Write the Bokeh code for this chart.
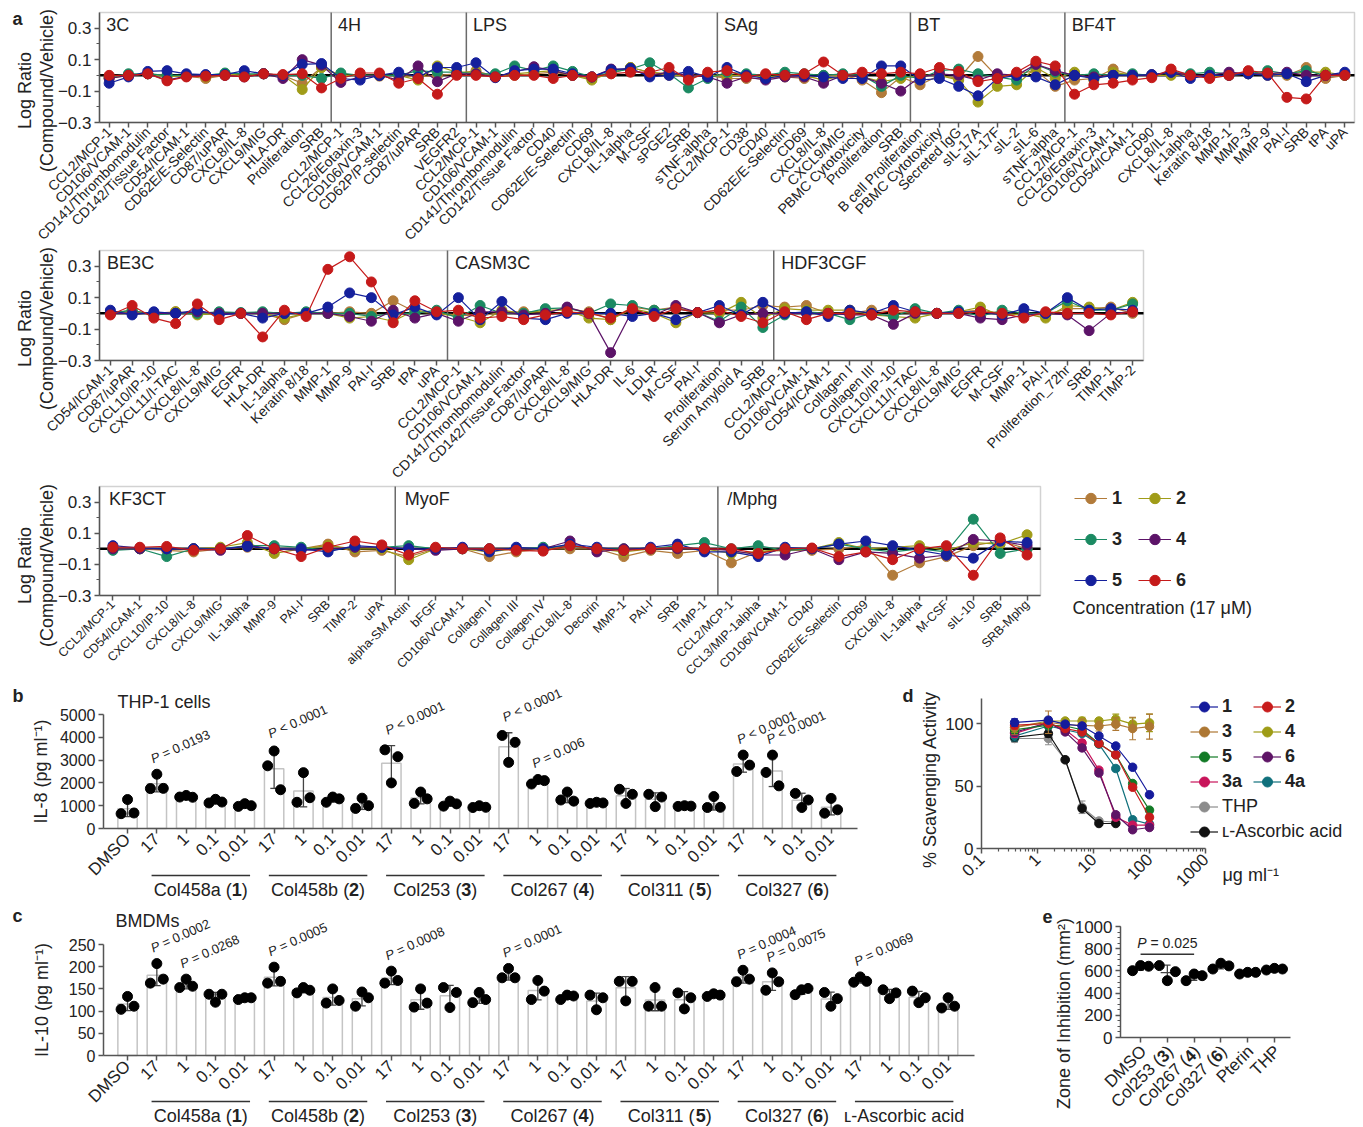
import math
import numpy as np
from bokeh.plotting import figure
from bokeh.layouts import column, row
from bokeh.models import (Range1d, FixedTicker, Label, Legend, LegendItem, BoxAnnotation,
                          CustomJSTickFormatter, PolyAnnotation)
from bokeh.embed import file_html
from bokeh.resources import INLINE

FONT = "Liberation Sans"
TXT = "#222222"
AXC = "#555555"

# ---------------- panel a data ----------------
A_SERIES = ["1", "2", "3", "4", "5", "6"]
A_COLORS = ["#b27b3a", "#a09c18", "#1b8a62", "#5c1368", "#15209c", "#c51a1a"]

A1_PANELS = ["3C", "4H", "LPS", "SAg", "BT", "BF4T"]
CATS_3C = ["CCL2/MCP-1", "CD106/VCAM-1", "CD141/Thrombomodulin", "CD142/Tissue Factor", "CD54/ICAM-1",
           "CD62E/E-Selectin", "CD87/uPAR", "CXCL8/IL-8", "CXCL9/MIG", "HLA-DR", "Proliferation", "SRB"]
CATS_4H = ["CCL2/MCP-1", "CCL26/Eotaxin-3", "CD106/VCAM-1", "CD62P/P-selectin", "CD87/uPAR", "SRB", "VEGFR2"]
CATS_LPS = ["CCL2/MCP-1", "CD106/VCAM-1", "CD141/Thrombomodulin", "CD142/Tissue Factor", "CD40",
            "CD62E/E-Selectin", "CD69", "CXCL8/IL-8", "IL-1alpha", "M-CSF", "sPGE2", "SRB", "sTNF-alpha"]
CATS_SAG = ["CCL2/MCP-1", "CD38", "CD40", "CD62E/E-Selectin", "CD69", "CXCL8/IL-8", "CXCL9/MIG",
            "PBMC Cytotoxicity", "Proliferation", "SRB"]
CATS_BT = ["B cell Proliferation", "PBMC Cytotoxicity", "Secreted IgG", "sIL-17A", "sIL-17F", "sIL-2",
           "sIL-6", "sTNF-alpha"]
CATS_BF4T = ["CCL2/MCP-1", "CCL26/Eotaxin-3", "CD106/VCAM-1", "CD54/ICAM-1", "CD90", "CXCL8/IL-8",
             "IL-1alpha", "Keratin 8/18", "MMP-1", "MMP-3", "MMP-9", "PAI-I", "SRB", "tPA", "uPA"]

A1_S1 = [-0.01, 0.0, 0.01, 0.0, -0.005, -0.02, 0.0, 0.0, 0.01, 0.0, -0.05, 0.05,
         0.0, 0.0, -0.005, 0.0, -0.01, 0.0, 0.01,
         0.03, -0.01, 0.0, 0.01, 0.02, 0.0, -0.02, 0.01, 0.05, 0.02, 0.0, 0.0, 0.0,
         -0.02, -0.02, -0.02, -0.01, -0.02, 0.0, 0.0, -0.03, -0.11, -0.01,
         -0.06, 0.0, -0.02, 0.12, -0.01, 0.01, 0.03, -0.07,
         -0.03, -0.02, 0.04, 0.0, 0.005, 0.02, 0.0, -0.01, 0.0, 0.02, 0.0, 0.0, 0.05, -0.02, 0.0]
A1_S2 = [-0.02, 0.0, 0.01, -0.01, 0.0, -0.01, 0.01, 0.0, 0.01, 0.0, -0.09, 0.05,
         0.0, 0.0, 0.0, 0.0, -0.03, 0.06, 0.02,
         0.02, -0.01, 0.01, 0.02, 0.03, 0.0, -0.03, 0.02, 0.05, 0.02, 0.01, -0.01, 0.0,
         0.0, 0.0, -0.01, 0.0, 0.0, -0.03, 0.0, -0.01, -0.04, -0.02,
         0.0, 0.0, -0.03, -0.17, -0.07, -0.06, 0.05, -0.02,
         0.02, -0.03, 0.02, 0.0, 0.0, 0.0, 0.0, -0.01, 0.0, 0.01, 0.01, 0.01, 0.02, 0.02, 0.0]
A1_S3 = [-0.01, 0.01, 0.01, 0.0, 0.0, 0.0, 0.015, 0.01, 0.01, 0.0, 0.0, -0.02,
         0.015, 0.0, 0.0, 0.0, 0.03, 0.02, 0.02,
         0.01, 0.01, 0.06, 0.03, 0.06, 0.025, -0.01, 0.02, 0.04, 0.08, 0.01, -0.08, -0.02,
         0.02, 0.01, 0.0, 0.02, 0.01, 0.0, 0.01, 0.0, -0.07, 0.0,
         -0.02, 0.03, 0.04, 0.01, -0.01, -0.03, 0.07, 0.02,
         0.0, 0.01, 0.0, 0.01, 0.0, 0.02, 0.01, 0.02, 0.01, 0.01, 0.03, 0.01, 0.03, 0.0, 0.0]
A1_S4 = [-0.02, 0.0, 0.01, -0.03, -0.005, 0.0, 0.0, -0.01, 0.01, -0.02, 0.1, 0.065,
         -0.045, -0.01, 0.0, -0.03, 0.06, -0.04, 0.01,
         0.01, -0.01, 0.02, 0.055, 0.03, 0.0, -0.01, 0.04, 0.04, 0.0, 0.02, 0.0, -0.01,
         -0.05, -0.01, -0.03, -0.01, -0.01, -0.05, 0.0, -0.01, -0.05, -0.1,
         -0.01, 0.01, 0.0, -0.03, 0.01, 0.0, 0.07, 0.03,
         0.0, -0.01, 0.0, 0.0, 0.0, 0.02, 0.0, 0.0, 0.02, 0.01, 0.01, 0.02, 0.0, 0.0, 0.01]
A1_S5 = [-0.05, -0.01, 0.025, 0.03, 0.01, 0.005, 0.005, 0.03, 0.01, 0.0, 0.07, 0.075,
         -0.02, -0.03, 0.0, 0.02, -0.01, 0.05, 0.05,
         0.08, -0.015, 0.03, 0.04, 0.04, 0.01, -0.01, 0.035, 0.045, -0.01, 0.0, 0.025, -0.01,
         0.05, 0.0, -0.02, 0.0, 0.0, -0.01, -0.02, -0.02, 0.06, 0.06,
         -0.03, -0.02, -0.07, -0.13, -0.02, 0.0, -0.01, -0.06,
         0.0, -0.02, 0.0, 0.0, 0.005, 0.02, -0.02, 0.0, 0.0, 0.01, 0.0, 0.01, -0.04, 0.0, 0.02]
A1_S6 = [0.0, 0.0, 0.01, -0.035, -0.01, -0.005, 0.0, -0.01, 0.01, 0.005, 0.01, -0.08,
         -0.02, 0.015, 0.015, -0.05, -0.02, -0.12, 0.0,
         0.0, -0.01, 0.0, 0.0, -0.02, 0.0, -0.01, 0.01, 0.02, 0.02, 0.05, -0.03, 0.02,
         0.03, -0.01, 0.01, 0.0, 0.01, 0.085, 0.0, 0.02, 0.01, 0.02,
         0.01, 0.05, 0.025, -0.04, -0.02, 0.02, 0.09, 0.06,
         -0.12, -0.06, -0.05, -0.03, -0.015, 0.04, 0.0, -0.02, 0.0, 0.03, 0.015, -0.14, -0.15, 0.0, 0.0]

A2_PANELS = ["BE3C", "CASM3C", "HDF3CGF"]
CATS_BE3C = ["CD54/ICAM-1", "CD87/uPAR", "CXCL10/IP-10", "CXCL11/I-TAC", "CXCL8/IL-8", "CXCL9/MIG", "EGFR",
             "HLA-DR", "IL-1alpha", "Keratin 8/18", "MMP-1", "MMP-9", "PAI-I", "SRB", "tPA", "uPA"]
CATS_CASM3C = ["CCL2/MCP-1", "CD106/VCAM-1", "CD141/Thrombomodulin", "CD142/Tissue Factor", "CD87/uPAR",
               "CXCL8/IL-8", "CXCL9/MIG", "HLA-DR", "IL-6", "LDLR", "M-CSF", "PAI-I", "Proliferation",
               "Serum Amyloid A", "SRB"]
CATS_HDF3CGF = ["CCL2/MCP-1", "CD106/VCAM-1", "CD54/ICAM-1", "Collagen I", "Collagen III", "CXCL10/IP-10",
                "CXCL11/I-TAC", "CXCL8/IL-8", "CXCL9/MIG", "EGFR", "M-CSF", "MMP-1", "PAI-I",
                "Proliferation_72hr", "SRB", "TIMP-1", "TIMP-2"]

A2_S1 = [0.0, 0.01, 0.0, 0.01, 0.0, 0.0, 0.0, 0.0, -0.04, 0.0, 0.0, 0.01, 0.0, 0.08, 0.01, 0.0,
         -0.01, -0.02, 0.01, 0.01, 0.01, 0.03, 0.01, -0.04, 0.04, 0.02, 0.04, 0.005, 0.02, 0.02, 0.05,
         0.04, 0.05, 0.0, 0.0, 0.02, 0.01, 0.0, 0.0, 0.01, 0.02, 0.0, -0.01, -0.01, 0.03, 0.03, 0.04, 0.0]
A2_S2 = [0.0, 0.02, -0.01, 0.01, -0.01, 0.0, 0.0, 0.0, -0.03, 0.0, 0.0, -0.03, -0.02, -0.05, 0.02, 0.0,
         -0.02, -0.06, 0.02, 0.0, 0.02, 0.02, -0.03, -0.04, 0.03, 0.0, -0.06, 0.005, 0.0, 0.07, -0.03,
         0.03, 0.02, 0.02, 0.02, -0.01, -0.02, -0.03, 0.0, 0.01, 0.04, -0.02, 0.0, -0.03, 0.05, 0.04, 0.02, 0.07]
A2_S3 = [0.0, 0.02, -0.01, 0.0, 0.0, 0.01, 0.005, 0.01, 0.0, 0.01, 0.0, 0.0, -0.02, 0.0, 0.0, 0.02,
         -0.03, 0.05, 0.0, 0.0, 0.03, 0.035, 0.0, 0.06, 0.05, 0.02, 0.03, 0.005, -0.05, 0.04, -0.09,
         -0.01, 0.01, 0.0, -0.04, 0.0, -0.02, 0.03, 0.0, 0.02, -0.02, 0.02, 0.0, 0.0, 0.08, 0.02, 0.02, 0.06]
A2_S4 = [0.0, 0.0, 0.0, 0.0, 0.01, 0.0, 0.0, 0.0, 0.0, 0.0, 0.0, -0.02, -0.05, 0.02, -0.03, 0.0,
         -0.05, 0.01, 0.01, -0.01, 0.0, 0.04, 0.0, -0.25, 0.02, -0.01, 0.05, 0.005, -0.06, -0.01, 0.0,
         0.0, 0.0, 0.0, -0.01, -0.01, -0.07, 0.0, 0.0, 0.0, -0.03, -0.04, -0.01, 0.0, -0.01, -0.11, 0.0, 0.01]
A2_S5 = [0.02, -0.01, 0.01, 0.0, 0.02, -0.01, 0.0, -0.03, 0.0, 0.0, 0.04, 0.13, 0.1, -0.01, 0.04, -0.01,
         0.1, -0.04, 0.075, -0.03, -0.04, 0.0, 0.0, 0.0, -0.02, 0.0, -0.04, 0.005, 0.05, -0.01, 0.07,
         0.0, 0.01, -0.02, 0.02, 0.0, 0.05, 0.01, 0.0, 0.01, 0.01, -0.01, 0.03, 0.0, 0.1, 0.02, 0.03, 0.02]
A2_S6 = [-0.01, 0.05, -0.03, -0.065, 0.06, -0.04, 0.0, -0.15, 0.02, -0.02, 0.28, 0.36, 0.2, -0.06, 0.08, 0.01,
         0.02, -0.03, -0.02, -0.04, -0.01, 0.01, 0.0, -0.03, 0.03, -0.02, 0.03, 0.005, 0.02, -0.02, -0.06,
         0.01, -0.04, 0.0, 0.0, -0.01, 0.02, 0.01, 0.0, 0.0, 0.01, 0.0, -0.03, 0.01, 0.0, 0.0, -0.01, 0.01]

A3_PANELS = ["KF3CT", "MyoF", "/Mphg"]
CATS_KF3CT = ["CCL2/MCP-1", "CD54/ICAM-1", "CXCL10/IP-10", "CXCL8/IL-8", "CXCL9/MIG", "IL-1alpha", "MMP-9",
              "PAI-I", "SRB", "TIMP-2", "uPA"]
CATS_MYOF = ["alpha-SM Actin", "bFGF", "CD106/VCAM-1", "Collagen I", "Collagen III", "Collagen IV",
             "CXCL8/IL-8", "Decorin", "MMP-1", "PAI-I", "SRB", "TIMP-1"]
CATS_MPHG = ["CCL2/MCP-1", "CCL3/MIP-1alpha", "CD106/VCAM-1", "CD40", "CD62E/E-Selectin", "CD69",
             "CXCL8/IL-8", "IL-1alpha", "M-CSF", "sIL-10", "SRB", "SRB-Mphg"]

A3_S1 = [0.0, 0.0, -0.01, -0.02, 0.0, 0.01, 0.0, 0.0, 0.03, -0.02, -0.01,
         -0.05, 0.0, 0.0, -0.05, -0.02, 0.0, 0.0, 0.0, -0.05, -0.01, -0.03, -0.01,
         -0.09, -0.02, -0.01, -0.01, 0.0, 0.02, -0.17, -0.09, -0.05, 0.02, 0.05, 0.0]
A3_S2 = [0.0, 0.0, 0.0, 0.0, 0.01, 0.04, -0.03, 0.0, 0.02, 0.0, 0.0,
         -0.07, 0.0, 0.0, -0.02, 0.0, 0.0, 0.02, 0.0, -0.02, 0.0, 0.0, 0.0,
         -0.03, -0.02, 0.0, 0.0, 0.04, 0.0, 0.01, 0.02, -0.01, 0.04, 0.03, 0.09]
A3_S3 = [-0.01, 0.0, -0.05, 0.0, 0.0, 0.02, 0.02, 0.01, -0.01, 0.01, 0.01,
         0.02, 0.0, 0.0, 0.0, 0.0, 0.01, 0.02, 0.0, 0.0, 0.0, 0.02, 0.04,
         0.0, 0.02, -0.01, 0.0, 0.03, 0.0, -0.02, 0.0, -0.02, 0.19, -0.03, 0.0]
A3_S4 = [0.0, 0.0, 0.0, 0.0, -0.01, 0.02, 0.0, -0.01, 0.0, 0.01, 0.01,
         0.0, -0.01, 0.0, 0.0, 0.0, 0.0, 0.05, -0.02, 0.0, 0.0, 0.0, 0.0,
         -0.01, -0.04, -0.04, 0.0, -0.07, -0.02, -0.03, -0.06, -0.04, 0.06, 0.05, 0.02]
A3_S5 = [0.02, 0.005, 0.0, 0.0, 0.0, 0.015, 0.0, 0.0, -0.02, 0.02, 0.01,
         0.0, 0.0, 0.01, -0.02, 0.01, 0.0, 0.03, 0.01, -0.01, 0.01, 0.03, -0.02,
         -0.02, -0.05, 0.01, 0.0, 0.03, 0.05, 0.02, -0.01, -0.04, -0.06, 0.05, 0.04]
A3_S6 = [0.01, 0.01, 0.015, -0.01, 0.0, 0.085, 0.0, -0.05, 0.01, 0.05, 0.025,
         -0.04, 0.01, 0.0, 0.0, -0.01, -0.015, 0.02, 0.0, -0.01, 0.0, 0.01, 0.0,
         0.0, -0.03, 0.0, 0.005, -0.05, -0.02, -0.07, 0.0, 0.02, -0.17, 0.07, -0.04]

# ---------------- panel b / c data ----------------
DOSES = ["17", "1", "0.1", "0.01"]
B_GROUPS = ["Col458a", "Col458b", "Col253", "Col267", "Col311", "Col327"]
B_GROUP_NUMS = ["1", "2", "3", "4", "5", "6"]
B_TICKS = ["DMSO"] + DOSES * len(B_GROUPS)
B_REP_L = [650, 1750, 1380, 1120, 970, 2750, 1150, 1150, 880, 3450, 1100, 980, 920,
           4080, 1950, 1250, 1100, 1720, 1500, 970, 920, 2500, 2460, 1540, 670]
B_REP_M = [1270, 2380, 1450, 1280, 1090, 3400, 2450, 1380, 1330, 2000, 1600, 1200, 1000,
           2900, 2150, 1600, 1150, 1100, 960, 1000, 1400, 3220, 3220, 920, 1320]
B_REP_R = [680, 1760, 1370, 1160, 1000, 1700, 1350, 1300, 1000, 3150, 1300, 1080, 930,
           3780, 2100, 1200, 1120, 1500, 1380, 980, 930, 2780, 1870, 1250, 820]
B_P_INDEX = [1, 5, 9, 13, 14, 21, 22]
B_P_TEXT = ["= 0.0193", "< 0.0001", "< 0.0001", "< 0.0001", "= 0.006", "< 0.0001", "< 0.0001"]

C_GROUPS = ["Col458a", "Col458b", "Col253", "Col267", "Col311", "Col327", "\u029f-Ascorbic acid"]
C_GROUP_NUMS = ["1", "2", "3", "4", "5", "6", ""]
C_TICKS = ["DMSO"] + DOSES * len(C_GROUPS)
C_REP_L = [104, 163, 153, 138, 126, 163, 141, 118, 111, 163, 109, 153, 119, 175, 126, 126, 136,
           167, 111, 141, 133, 166, 147, 137, 142, 165, 148, 145, 107]
C_REP_M = [133, 207, 172, 120, 130, 199, 153, 150, 143, 190, 150, 108, 142, 196, 169, 136, 103,
           123, 153, 105, 139, 192, 186, 148, 111, 177, 128, 119, 130]
C_REP_R = [111, 172, 156, 138, 130, 167, 147, 124, 130, 169, 118, 142, 126, 175, 145, 134, 130,
           167, 111, 130, 136, 172, 166, 151, 128, 167, 141, 130, 111]
C_P_INDEX = [1, 2, 5, 9, 13, 21, 22, 25]
C_P_TEXT = ["= 0.0002", "= 0.0268", "= 0.0005", "= 0.0008", "= 0.0001", "= 0.0004", "= 0.0075", "= 0.0069"]

# ---------------- panel d data ----------------
D_CONC = [0.39, 1.5625, 3.125, 6.25, 12.5, 25, 50, 100]
D_NAMES = ["1", "2", "3", "4", "5", "6", "3a", "4a"]
D_COLORS = ["#151b9c", "#c81c1c", "#ad7733", "#9e9c16", "#127a26", "#5e1466", "#c8145a", "#10707c"]
D_1 = [100.8, 102.7, 99.5, 98, 90, 82, 65, 43]
D_2 = [98.7, 100, 96, 93.3, 84, 75, 49, 25]
D_3 = [97, 101, 99, 98.5, 98, 99.5, 96, 97.5]
D_4 = [97, 102, 102, 102, 102, 103.5, 99.5, 100.5]
D_5 = [95, 98.7, 98, 95, 84, 75, 52, 30.7]
D_6 = [93, 100.8, 93.3, 80.5, 60.5, 27, 15, 16.8]
D_3A = [92, 100.5, 95, 84.5, 62.7, 25, 18.7, 18.7]
D_4A = [90, 98, 95, 92, 83.5, 64, 23, 19.5]
D_1_SD = [3, 2, 2, 2, 2, 2, 2, 2]
D_2_SD = [3, 2, 2, 2, 2, 2, 2, 2]
D_3_SD = [6, 9, 3, 5, 4, 5, 9, 10]
D_4_SD = [4, 3, 2, 3, 2, 4, 5, 7]
D_5_SD = [3, 2, 2, 2, 2, 2, 2, 2]
D_6_SD = [3, 2, 2, 2, 2, 2, 2, 2]
D_3A_SD = [3, 2, 2, 2, 2, 2, 2, 2]
D_4A_SD = [4, 2, 2, 2, 2, 2, 2, 2]
D_REF_CONC = [0.39, 1.5625, 3.125, 6.25, 12.5, 25]
D_REF_NAMES = ["THP", "\u029f-Ascorbic acid"]
D_REF_COLORS = ["#8c8c8c", "#111111"]
D_THP = [88, 88, 71, 33, 22, 21]
D_ASC = [89, 92, 71, 32, 20, 20]
D_THP_SD = [3, 5, 2, 5, 2, 2]
D_ASC_SD = [3, 3, 2, 2, 1, 1]

# ---------------- panel e data ----------------
E_NAMES = ["DMSO", "Col253", "Col267", "Col327", "Pterin", "THP"]
E_NUMS = ["", "3", "4", "6", "", ""]
E_REP_L = [602, 648, 512, 617, 572, 608]
E_REP_M = [648, 512, 572, 669, 587, 623]
E_REP_R = [642, 593, 557, 645, 587, 617]

# ---------------- helpers ----------------
CW = {' ': .278, '(': .333, ')': .333, '-': .333, '.': .278, '=': .584, '<': .584, 'C': .722,
      'o': .556, 'l': .222, 'a': .556, 'b': .556, 'c': .5, 'i': .222, 'r': .333, 's': .5,
      'A': .667, 'P': .667}


def text_w(s, fs):
    return sum(CW.get(ch, 0.556) for ch in s) * fs


def make_fig(page, box, dbox, x_log=False):
    """Figure whose frame fills the whole canvas; the axes are drawn at fixed data locations."""
    fx0, fy0, fx1, fy1 = page
    bx0, by0, bx1, by1 = box
    dx0, dx1, dy0, dy1 = dbox
    tx = math.log10 if x_log else (lambda v: v)
    itx = (lambda v: 10 ** v) if x_log else (lambda v: v)
    ppx = (bx1 - bx0) / (tx(dx1) - tx(dx0))
    xs = itx(tx(dx0) - (bx0 - fx0) / ppx)
    xe = itx(tx(dx1) + (fx1 - bx1) / ppx)
    ppy = (by1 - by0) / (dy1 - dy0)
    ye = dy1 + (by0 - fy0) / ppy
    ys = dy0 - (fy1 - by1) / ppy
    p = figure(width=fx1 - fx0, height=fy1 - fy0, x_range=Range1d(xs, xe), y_range=Range1d(ys, ye),
               x_axis_type="log" if x_log else "linear", title=None,
               min_border=0, min_border_left=0, min_border_right=0, min_border_top=0, min_border_bottom=0,
               output_backend="svg", toolbar_location=None)
    p.grid.visible = False
    p.outline_line_color = None
    p.background_fill_color = None
    p.border_fill_color = None
    p.xaxis.fixed_location = dy0
    p.yaxis.fixed_location = dx0
    p.xaxis.bounds = (dx0, dx1)
    p.yaxis.bounds = (dy0, dy1)
    return p


def scr(page, px, py):
    """page pixel -> screen units of the (full-canvas) frame"""
    return px - page[0], page[3] - py


def lbl(p, text, x, y, xu="screen", yu="screen", fs=18, style="normal", align="left",
        base="middle", angle=0.0, xo=0.0, yo=0.0):
    p.add_layout(Label(x=x, y=y, x_units=xu, y_units=yu, text=text, text_font=FONT,
                       text_font_size=f"{fs}px", text_font_style=style, text_color=TXT,
                       text_align=align, text_baseline=base, angle=angle,
                       x_offset=xo, y_offset=yo))


def plbl(p, page, text, px, py, **kw):
    sx, sy = scr(page, px, py)
    lbl(p, text, sx, sy, **kw)


def style_axes(p, tick_fs="16px"):
    for ax in p.axis:
        ax.axis_line_color = AXC
        ax.axis_line_width = 1.5
        ax.major_tick_line_color = AXC
        ax.major_tick_line_width = 1.5
        ax.minor_tick_line_color = AXC
        ax.minor_tick_line_width = 1.2
        ax.major_tick_in = 0
        ax.major_tick_out = 5
        ax.minor_tick_in = 0
        ax.minor_tick_out = 3
        ax.major_label_text_font = FONT
        ax.major_label_text_color = TXT
        ax.major_label_text_font_size = tick_fs
        ax.major_label_standoff = 3
        ax.axis_label_text_font = FONT
        ax.axis_label_text_font_style = "normal"
        ax.axis_label_text_color = TXT
        ax.axis_label_text_font_size = "18px"


def a_row(page, box, panels, cat_lists, series, cat_fs, ylab_y):
    cats = [c for lst in cat_lists for c in lst]
    n = len(cats)
    for s in series:
        assert len(s) == n, (len(s), n)
    p = make_fig(page, box, (-0.5, n - 0.5, -0.3, 0.4))
    style_axes(p, "17px")
    p.yaxis.ticker = FixedTicker(ticks=[-0.3, -0.1, 0.1, 0.3], minor_ticks=[-0.2, 0.0, 0.2])
    p.xaxis.ticker = FixedTicker(ticks=list(range(n)), minor_ticks=[])
    p.xaxis.major_label_overrides = {i: c for i, c in enumerate(cats)}
    p.xaxis.major_label_orientation = math.pi / 4
    p.xaxis.major_label_text_font_size = cat_fs
    p.xaxis.major_label_standoff = 2
    p.add_layout(BoxAnnotation(left=-0.5, right=n - 0.5, bottom=-0.3, top=0.4, fill_alpha=0.0,
                               line_color="#6a6a6a", line_width=1.5, level="underlay"))
    p.segment(x0=[-0.5], y0=[0], x1=[n - 0.5], y1=[0], line_color="black", line_width=2.5)
    start = 0
    for name, lst in zip(panels, cat_lists):
        if start > 0:
            p.segment(x0=[start - 0.5], y0=[-0.3], x1=[start - 0.5], y1=[0.4],
                      line_color="#6a6a6a", line_width=1.5)
        lbl(p, name, start - 0.15, 0.32, xu="data", yu="data", fs=18)
        start += len(lst)
    x = list(range(n))
    rends = []
    for vals, col in zip(series, A_COLORS):
        l = p.line(x, vals, line_color=col, line_width=1.2)
        s = p.scatter(x, vals, size=10, fill_color=col, line_color=col)
        rends.append((l, s))
    plbl(p, page, "Log Ratio", 24, ylab_y, fs=18, align="center", angle=math.pi / 2)
    plbl(p, page, "(Compound/Vehicle)", 46, ylab_y, fs=18, align="center", angle=math.pi / 2)
    return p, rends


def add_p(p, xi, ytop, rest, fs=13, ang=0.42, dy=8):
    wP = (0.667 + 0.278) * fs
    lbl(p, "P", xi - 0.08, ytop, xu="data", yu="data", fs=fs, style="italic", base="bottom",
        angle=ang, yo=dy)
    lbl(p, rest, xi - 0.08, ytop, xu="data", yu="data", fs=fs, base="bottom", angle=ang,
        xo=wP * math.cos(ang), yo=dy + wP * math.sin(ang))


def add_groups(p, page, names, nums, line_py, text_py, fs=18):
    _, y_line = scr(page, 0, line_py)
    _, y_text = scr(page, 0, text_py)
    for g, (name, num) in enumerate(zip(names, nums)):
        c = 2.5 + 4 * g
        p.add_layout(PolyAnnotation(xs=[c - 1.68, c + 1.68, c + 1.68, c - 1.68],
                                    ys=[y_line + 0.8, y_line + 0.8, y_line - 0.8, y_line - 0.8],
                                    xs_units="data", ys_units="screen", fill_color="#333333",
                                    fill_alpha=1.0, line_color=None))
        if num:
            pa, pb, pc = name + " (", num, ")"
            wa, wb, wc = text_w(pa, fs), text_w(pb, fs), text_w(pc, fs)
            st = -(wa + wb + wc) / 2
            lbl(p, pa, c, y_text, xu="data", fs=fs, xo=st)
            lbl(p, pb, c, y_text, xu="data", fs=fs, style="bold", xo=st + wa)
            lbl(p, pc, c, y_text, xu="data", fs=fs, xo=st + wa + wb)
        else:
            lbl(p, name, c, y_text, xu="data", fs=fs, align="center")


def bar_panel(page, box, ticks, rl, rm, rr, y_end, y_ticks, y_label, x_end, label_standoff):
    n = len(ticks)
    assert len(rl) == len(rm) == len(rr) == n
    p = make_fig(page, box, (-0.82, x_end, 0, y_end))
    style_axes(p, "16px")
    p.yaxis.ticker = FixedTicker(ticks=y_ticks, minor_ticks=[])
    p.yaxis.axis_label = y_label
    p.yaxis.axis_label_standoff = label_standoff
    p.xaxis.ticker = FixedTicker(ticks=list(range(n)), minor_ticks=[])
    p.xaxis.major_label_overrides = {i: t for i, t in enumerate(ticks)}
    p.xaxis.major_label_orientation = math.pi / 4
    p.xaxis.major_label_text_font_size = "17px"
    reps = np.array([rl, rm, rr], dtype=float)
    mean = reps.mean(axis=0)
    sd = reps.std(axis=0, ddof=1)
    x = np.arange(n, dtype=float)
    p.vbar(x=x, top=mean, width=0.66, fill_color="white", line_color="#c4c4c4", line_width=1.5)
    p.segment(x, mean - sd, x, mean + sd, line_color="#444444", line_width=1.3)
    p.segment(x - 0.13, mean + sd, x + 0.13, mean + sd, line_color="#444444", line_width=1.3)
    p.segment(x - 0.13, mean - sd, x + 0.13, mean - sd, line_color="#444444", line_width=1.3)
    for off, r in zip([-0.22, 0.0, 0.22], reps):
        p.scatter(x + off, r, size=10, fill_color="black", line_color="black")
    tops = np.maximum(reps.max(axis=0), mean + sd)
    return p, tops


def make_legend(items, location, ncols, bold, gw, gh, spacing, lw, standoff, orientation="horizontal"):
    return Legend(items=items, location=location, orientation=orientation, ncols=ncols,
                  glyph_width=gw, glyph_height=gh, label_height=gh, label_width=lw,
                  label_standoff=standoff, spacing=spacing, padding=0, margin=0,
                  border_line_color=None, background_fill_alpha=0.0,
                  label_text_font=FONT, label_text_font_size="18px",
                  label_text_font_style="bold" if bold else "normal", label_text_color=TXT)


# ---------------- panel a ----------------
PG_A1 = (0, 0, 1363, 246)
pa1, _ = a_row(PG_A1, (99, 12, 1354, 122), A1_PANELS,
               [CATS_3C, CATS_4H, CATS_LPS, CATS_SAG, CATS_BT, CATS_BF4T],
               [A1_S1, A1_S2, A1_S3, A1_S4, A1_S5, A1_S6], "14px", 90)
plbl(pa1, PG_A1, "a", 12, 18, fs=18, style="bold")

PG_A2 = (0, 246, 1363, 482)
pa2, _ = a_row(PG_A2, (99, 250, 1143, 360), A2_PANELS, [CATS_BE3C, CATS_CASM3C, CATS_HDF3CGF],
               [A2_S1, A2_S2, A2_S3, A2_S4, A2_S5, A2_S6], "14px", 328)

PG_A3 = (0, 482, 1363, 685)
pa3, rends3 = a_row(PG_A3, (99, 486, 1040, 595), A3_PANELS, [CATS_KF3CT, CATS_MYOF, CATS_MPHG],
                    [A3_S1, A3_S2, A3_S3, A3_S4, A3_S5, A3_S6], "12.5px", 565)
a_items = [LegendItem(label=nm, renderers=[l, s]) for nm, (l, s) in zip(A_SERIES, rends3)]
pa3.add_layout(make_legend(a_items, scr(PG_A3, 1074, 593), 2, True, 33, 26, 15, 11, 5))
plbl(pa3, PG_A3, "Concentration (17 \u03bcM)", 1072, 607, fs=18)

# ---------------- panel b ----------------
PG_B = (0, 685, 900, 907)
pb, b_tops = bar_panel(PG_B, (103, 714, 857, 828), B_TICKS, B_REP_L, B_REP_M, B_REP_R, 5000,
                       [0, 1000, 2000, 3000, 4000, 5000], "IL-8 (pg ml\u207b\u00b9)", 24.9, 6)
for i, t in zip(B_P_INDEX, B_P_TEXT):
    add_p(pb, i, b_tops[i], t)
add_groups(pb, PG_B, B_GROUPS, B_GROUP_NUMS, 875, 889)
plbl(pb, PG_B, "b", 12, 695, fs=18, style="bold")
plbl(pb, PG_B, "THP-1 cells", 117, 701, fs=18)

# ---------------- panel c ----------------
PG_C = (0, 907, 1000, 1127)
pc, c_tops = bar_panel(PG_C, (103, 944, 974, 1055), C_TICKS, C_REP_L, C_REP_M, C_REP_R, 250,
                       [0, 50, 100, 150, 200, 250], "IL-10 (pg ml\u207b\u00b9)", 28.9, 14)
for i, t in zip(C_P_INDEX, C_P_TEXT):
    add_p(pc, i, c_tops[i], t)
add_groups(pc, PG_C, C_GROUPS, C_GROUP_NUMS, 1101, 1115)
plbl(pc, PG_C, "c", 12, 915, fs=18, style="bold")
plbl(pc, PG_C, "BMDMs", 115, 920, fs=18)

# ---------------- panel d ----------------
PG_D = (900, 685, 1363, 907)
pd_ = make_fig(PG_D, (981, 698, 1205, 848), (0.1, 1000, 0, 120), x_log=True)
style_axes(pd_, "17px")
pd_.xaxis.ticker = FixedTicker(ticks=[0.1, 1, 10, 100, 1000],
                               minor_ticks=[k * 10.0 ** e for e in range(-1, 3) for k in range(2, 10)])
pd_.xaxis.formatter = CustomJSTickFormatter(code="return tick.toString();")
pd_.xaxis.major_label_orientation = math.pi / 4
pd_.yaxis.ticker = FixedTicker(ticks=[0, 50, 100], minor_ticks=[])


def d_series(p, conc, vals, sds, col):
    conc = np.array(conc, dtype=float)
    vals = np.array(vals, dtype=float)
    sds = np.array(sds, dtype=float)
    p.segment(conc, vals - sds, conc, vals + sds, line_color=col, line_width=1.1)
    p.segment(conc * 0.87, vals + sds, conc * 1.15, vals + sds, line_color=col, line_width=1.1)
    p.segment(conc * 0.87, vals - sds, conc * 1.15, vals - sds, line_color=col, line_width=1.1)
    l = p.line(conc, vals, line_color=col, line_width=1.2)
    s = p.scatter(conc, vals, size=8.5, fill_color=col, line_color=col)
    return l, s


ref_r = []
for vals, sds, col in zip([D_THP, D_ASC], [D_THP_SD, D_ASC_SD], D_REF_COLORS):
    ref_r.append(d_series(pd_, D_REF_CONC, vals, sds, col))
d_vals = [D_1, D_2, D_3, D_4, D_5, D_6, D_3A, D_4A]
d_sds = [D_1_SD, D_2_SD, D_3_SD, D_4_SD, D_5_SD, D_6_SD, D_3A_SD, D_4A_SD]
d_r = [None] * 8
for k in [7, 6, 5, 4, 3, 2, 1, 0]:
    d_r[k] = d_series(pd_, D_CONC, d_vals[k], d_sds[k], D_COLORS[k])
d_items = [LegendItem(label=nm, renderers=list(r)) for nm, r in zip(D_NAMES, d_r)]
pd_.add_layout(make_legend(d_items, scr(PG_D, 1190, 793.5), 2, True, 28, 25, 0, 31, 4))
r_items = [LegendItem(label=nm, renderers=list(r)) for nm, r in zip(D_REF_NAMES, ref_r)]
pd_.add_layout(make_legend(r_items, scr(PG_D, 1190, 843.5), 1, False, 28, 25, 0, 31, 4,
                           orientation="vertical"))
plbl(pd_, PG_D, "\u03bcg ml\u207b\u00b9", 1222, 874, fs=18)
plbl(pd_, PG_D, "d", 902, 695, fs=18, style="bold")
plbl(pd_, PG_D, "% Scavenging Activity", 929, 779, fs=18, align="center", angle=math.pi / 2)

# ---------------- panel e ----------------
PG_E = (1000, 907, 1363, 1127)
pe = make_fig(PG_E, (1120, 926, 1290, 1037), (-0.75, 5.6, 0, 1000))
style_axes(pe, "17px")
pe.yaxis.ticker = FixedTicker(ticks=[0, 200, 400, 600, 800, 1000], minor_ticks=list(range(0, 1001, 50)))
pe.xaxis.ticker = FixedTicker(ticks=list(range(len(E_NAMES))), minor_ticks=[])
pe.xaxis.major_label_text_color = None
# rotated category labels with a bold compound number, anchored at each tick
ang45 = math.pi / 4
fs_t = 17
for i, (name, num) in enumerate(zip(E_NAMES, E_NUMS)):
    parts = [(name + " (", "normal"), (num, "bold"), (")", "normal")] if num else [(name, "normal")]
    d_acc = 0.0
    for txt, sty in reversed(parts):
        lbl(pe, txt, i, 0, xu="data", yu="data", fs=fs_t, style=sty, align="right", base="middle",
            angle=ang45, xo=3 - d_acc * math.cos(ang45), yo=-11 - d_acc * math.sin(ang45))
        d_acc += text_w(txt, fs_t)
e_reps = np.array([E_REP_L, E_REP_M, E_REP_R], dtype=float)
e_mean = e_reps.mean(axis=0)
e_sd = e_reps.std(axis=0, ddof=1)
ex = np.arange(len(E_NAMES), dtype=float)
pe.segment(ex - 0.25, e_mean, ex + 0.25, e_mean, line_color="#444444", line_width=1.3)
pe.segment(ex, e_mean - e_sd, ex, e_mean + e_sd, line_color="#444444", line_width=1.3)
pe.segment(ex - 0.12, e_mean + e_sd, ex + 0.12, e_mean + e_sd, line_color="#444444", line_width=1.3)
pe.segment(ex - 0.12, e_mean - e_sd, ex + 0.12, e_mean - e_sd, line_color="#444444", line_width=1.3)
for off, r in zip([-0.3, 0.0, 0.3], e_reps):
    pe.scatter(ex + off, r, size=10, fill_color="black", line_color="black")
pe.segment([0], [750], [2], [750], line_color="#333333", line_width=1.3)
fs_e = 14
wP = (0.667 + 0.278) * fs_e
w_rest = text_w("= 0.025", fs_e)
st = -(wP + w_rest) / 2
lbl(pe, "P", 1, 750, xu="data", yu="data", fs=fs_e, style="italic", base="bottom", xo=st, yo=3)
lbl(pe, "= 0.025", 1, 750, xu="data", yu="data", fs=fs_e, base="bottom", xo=st + wP, yo=3)
plbl(pe, PG_E, "Zone of Inhibition (mm\u00b2)", 1063, 1013, fs=18, align="center", angle=math.pi / 2)
plbl(pe, PG_E, "e", 1042, 916, fs=18, style="bold")

layout = column(pa1, pa2, pa3, row(pb, pd_), row(pc, pe))
open("out.html", "w").write(file_html(layout, INLINE))
